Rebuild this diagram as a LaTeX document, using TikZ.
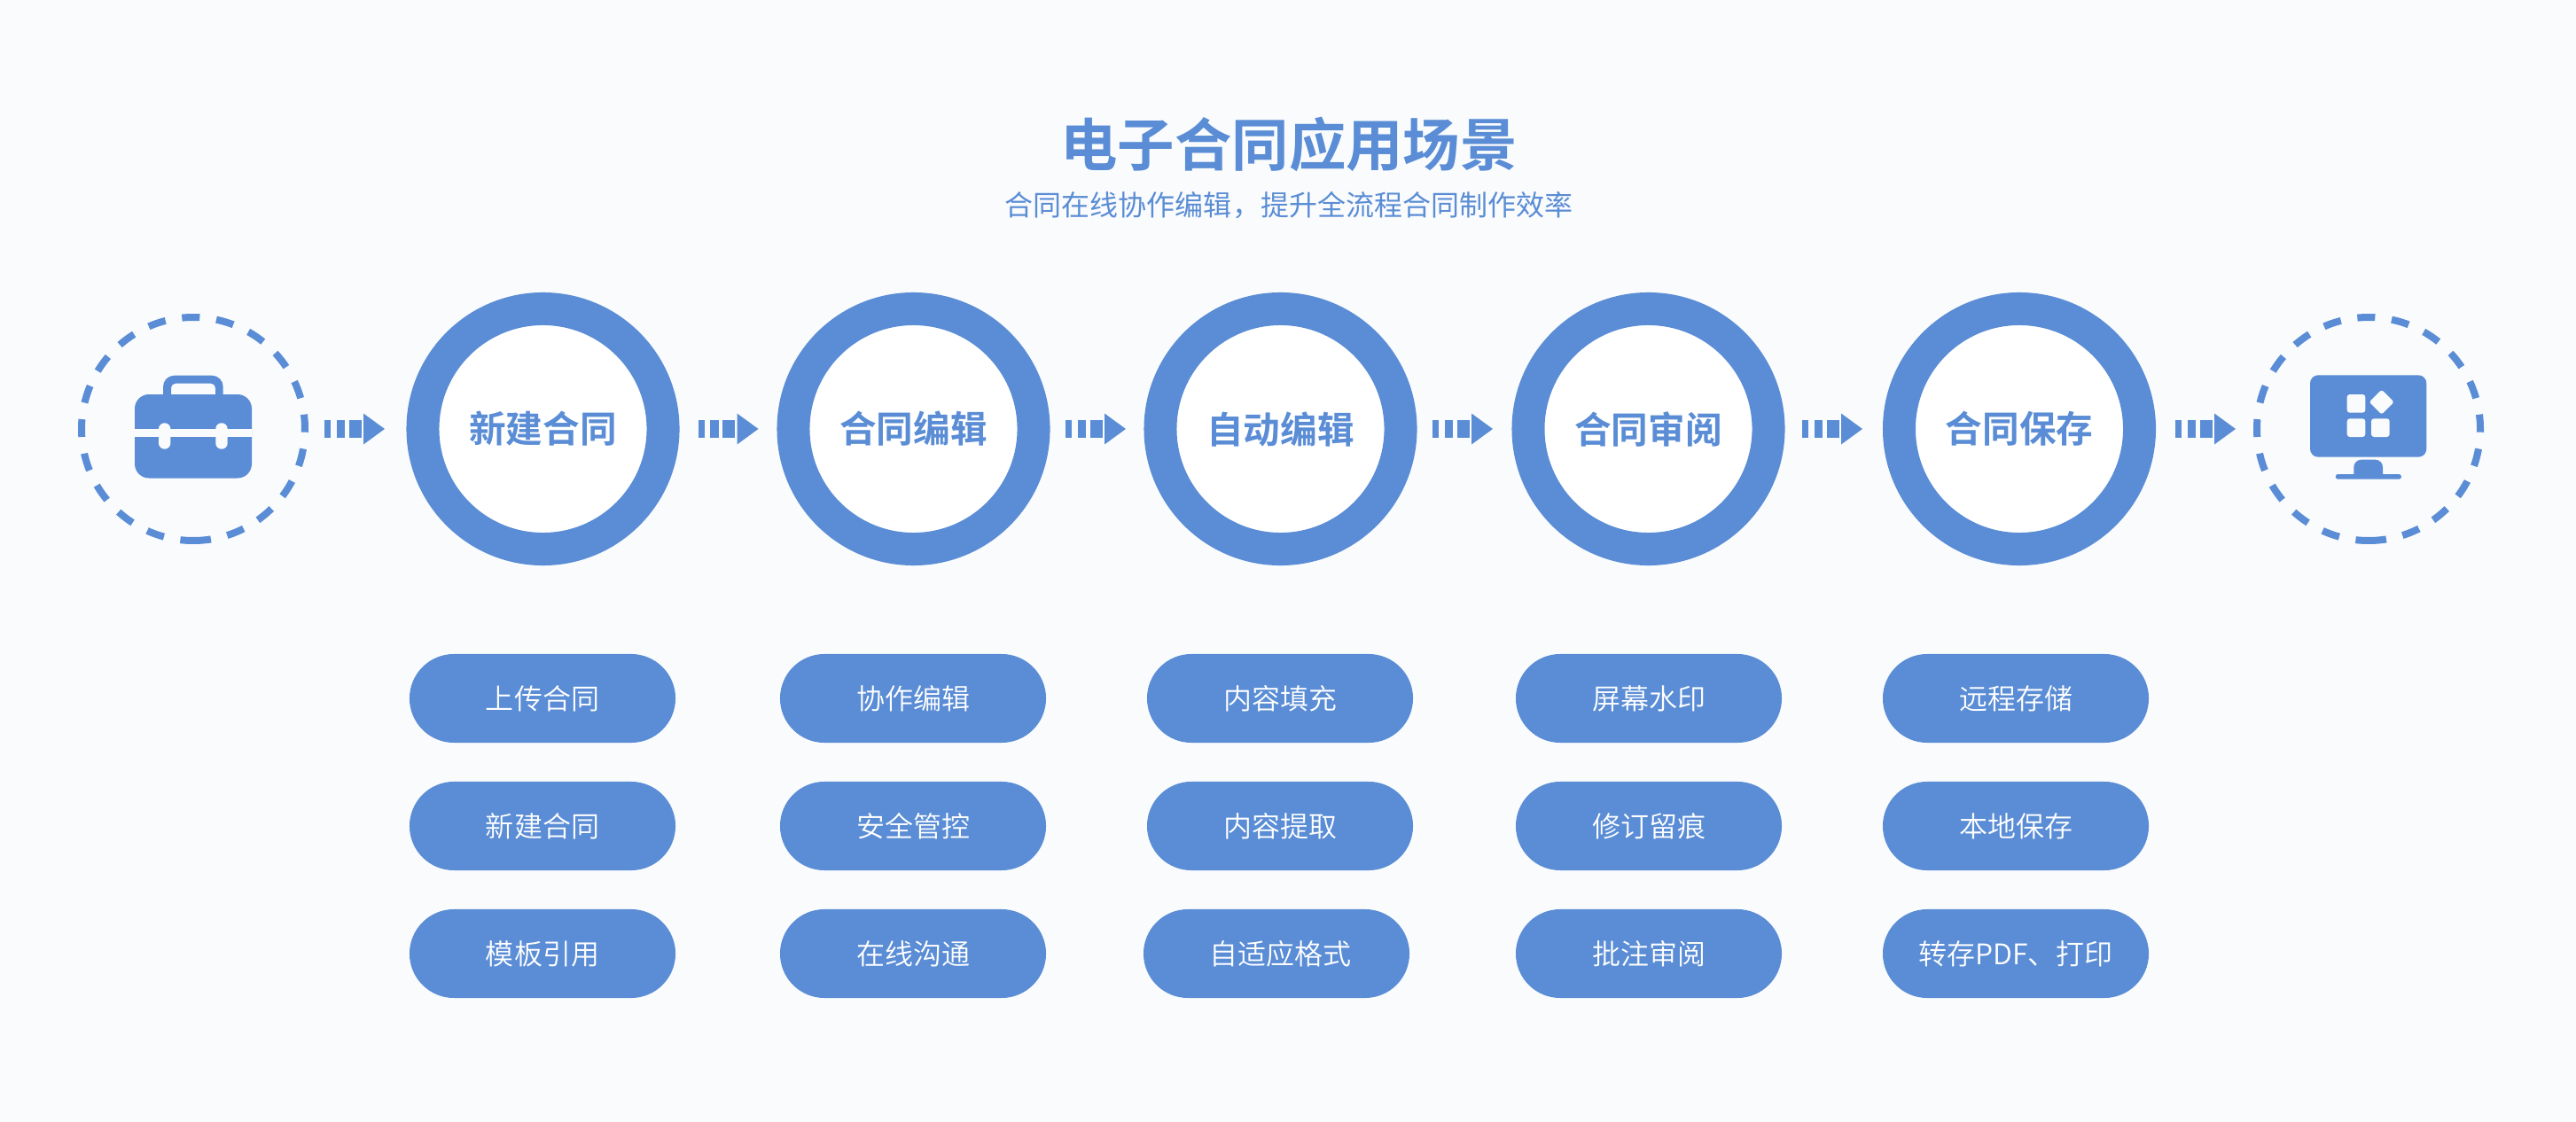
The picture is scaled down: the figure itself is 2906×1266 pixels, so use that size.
\documentclass[tikz,border=0pt]{standalone}
\usepackage{fontspec}
\usetikzlibrary{shapes.misc}
\setmainfont{Noto Sans CJK SC}
\newfontfamily\cjklight{Noto Sans CJK SC DemiLight}
\newfontfamily\cjkreg{Noto Sans CJK SC}
\newfontfamily\cjkbold{Noto Sans CJK SC Bold}
\definecolor{accent}{HTML}{5A8DD5}
\definecolor{paper}{HTML}{FAFBFD}
\tikzset{
  x=0.025cm,y=-0.025cm,
  ring/.style={circle,draw=accent,fill=white,line width=0.925cm,minimum size=6.775cm,inner sep=0pt,outer sep=0pt,text=accent,font=\cjkbold\fontsize{29.6pt}{32pt}\selectfont},
  pill/.style={rounded rectangle,fill=accent,minimum width=7.5cm,minimum height=2.5cm,inner sep=0pt,outer sep=0pt,text=white,font=\cjklight\fontsize{22.76pt}{26pt}\selectfont},
  dashring/.style={draw=accent,line width=0.2cm,dash pattern=on 0.5cm off 0.4712cm},
  flowarrow/.pic={
    \fill[accent] (0,-10) rectangle (7,10);
    \fill[accent] (13.7,-10) rectangle (23,10);
    \fill[accent] (27.7,-10) rectangle (41.7,10);
    \fill[accent] (44,-17.5) -- (68,0) -- (44,17.5) -- cycle;
  }
}
\begin{document}
\begin{tikzpicture}
\useasboundingbox (0,0) rectangle (2906,1266);
\fill[paper] (0,0) rectangle (2906,1266);
% titles
\node[text=accent,font=\cjkbold\fontsize{45.8pt}{50pt}\selectfont,inner sep=0pt] (title) at (1454,163) {电子合同应用场景};
\node[text=accent,font=\cjkreg\fontsize{22.76pt}{26pt}\selectfont,inner sep=0pt] (subtitle) at (1454,232) {合同在线协作编辑，提升全流程合同制作效率};
% rings
\node[ring] (c1) at (612.5,484) {新建合同};
\node[ring] (c2) at (1030.5,484) {合同编辑};
\node[ring] (c3) at (1444.5,484) {自动编辑};
\node[ring] (c4) at (1859.5,484) {合同审阅};
\node[ring] (c5) at (2278,484) {合同保存};
% dashed rings
\draw[dashring] (218,610) arc[start angle=90,delta angle=-360,radius=126];
\draw[dashring] (2672,610) arc[start angle=90,delta angle=-360,radius=126];
% briefcase
\fill[accent,even odd rule]
  (184,446) [rounded corners=9pt] -- (184,423.7) -- (251.7,423.7) [sharp corners] -- (251.7,446) -- cycle
  (193,446) [rounded corners=3.5pt] -- (193,432.7) -- (243,432.7) [sharp corners] -- (243,446) -- cycle;
\fill[accent,rounded corners=11.4pt] (152,445) rectangle (284,539.5);
\fill[paper] (152,484) rectangle (284,493.3);
\fill[paper,rounded corners=4.7pt] (179,477.3) rectangle (192.4,506.7);
\fill[paper,rounded corners=4.7pt] (243.3,477.3) rectangle (256.7,506.7);
% monitor
\fill[accent,rounded corners=6.5pt] (2606,423.3) rectangle (2737.3,515.7);
\fill[paper,rounded corners=2.2pt] (2647.7,445) rectangle (2668.3,465.7);
\fill[paper,rounded corners=2.2pt] (2647.7,472.3) rectangle (2668.3,493);
\fill[paper,rounded corners=2.2pt] (2675,472.3) rectangle (2695.7,493);
\fill[paper,rounded corners=1.8pt] (2686.7,439.7) -- (2700.7,453.7) -- (2686.7,467.7) -- (2672.7,453.7) -- cycle;
\fill[accent] (2655.3,536) [rounded corners=6pt] -- (2655.3,518.7) -- (2688,518.7) [sharp corners] -- (2688,536) -- cycle;
\fill[accent,rounded corners=2pt] (2634.7,535) rectangle (2709,540.7);
% arrows
\pic at (366,484) {flowarrow};
\pic at (787.5,484) {flowarrow};
\pic at (1202,484) {flowarrow};
\pic at (1616,484) {flowarrow};
\pic at (2033,484) {flowarrow};
\pic at (2454,484) {flowarrow};
% pills
\node[pill] (p11) at (612,788) {上传合同};
\node[pill] (p12) at (612,932) {新建合同};
\node[pill] (p13) at (612,1076) {模板引用};
\node[pill] (p21) at (1030,788) {协作编辑};
\node[pill] (p22) at (1030,932) {安全管控};
\node[pill] (p23) at (1030,1076) {在线沟通};
\node[pill] (p31) at (1444,788) {内容填充};
\node[pill] (p32) at (1444,932) {内容提取};
\node[pill] (p33) at (1440,1076) {\hspace{0.2cm}自适应格式};
\node[pill] (p41) at (1860,788) {屏幕水印};
\node[pill] (p42) at (1860,932) {修订留痕};
\node[pill] (p43) at (1860,1076) {批注审阅};
\node[pill] (p51) at (2274,788) {远程存储};
\node[pill] (p52) at (2274,932) {本地保存};
\node[pill] (p53) at (2274,1076) {转存PDF、打印};
\end{tikzpicture}
\end{document}
